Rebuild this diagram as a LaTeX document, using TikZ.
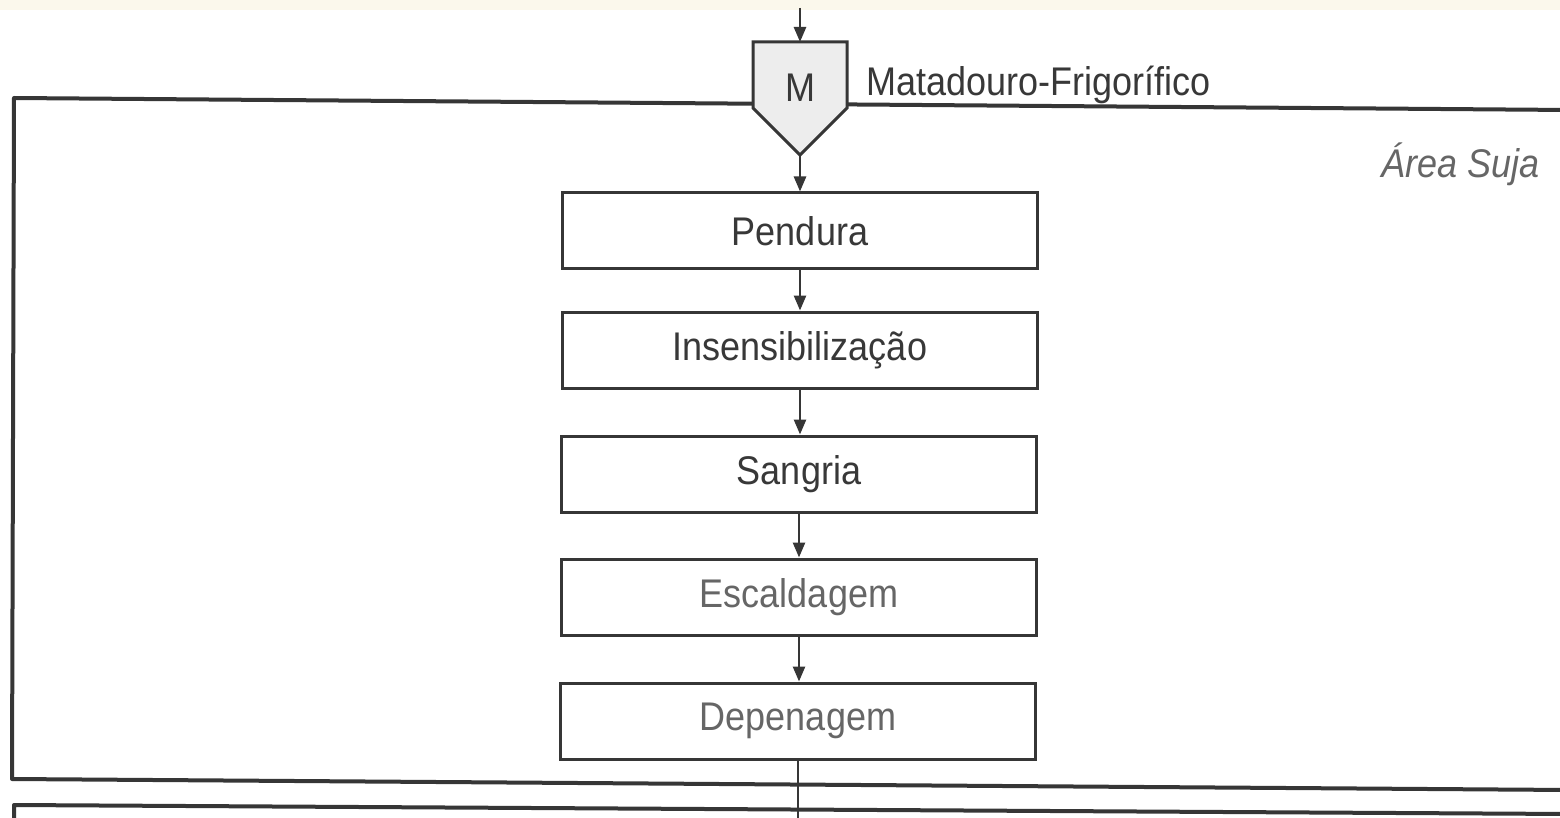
\documentclass[tikz,border=0pt]{standalone}
\usepackage{fontspec}
\setmainfont[FakeStretch=0.9]{Liberation Sans}
\usetikzlibrary{arrows.meta}
\definecolor{linegray}{HTML}{363636}
\definecolor{textdark}{HTML}{383838}
\definecolor{textlight}{HTML}{666666}
\definecolor{cream}{HTML}{FBF8EC}
\definecolor{mfill}{HTML}{EDEDED}
\newcommand\stepfont{\fontsize{40}{46}\selectfont}
\newcommand\areafont{\fontsize{40}{46}\selectfont\itshape}
\tikzset{
  frameline/.style={draw=linegray, line width=4pt, line join=round},
  stepbox/.style={draw=linegray, line width=3pt, fill=white,
    minimum width=475pt, minimum height=76pt, inner sep=0pt,
    font=\stepfont, text=textdark},
  flow/.style={draw=linegray, line width=2.6pt, -{Triangle[length=15pt,width=12pt]}},
  plain/.style={draw=linegray, line width=2.6pt},
}
\begin{document}
\begin{tikzpicture}[x=1pt,y=-1pt]
\useasboundingbox (0,0) rectangle (1560,818);
\fill[white] (0,0) rectangle (1560,818);
\fill[cream] (0,0) rectangle (1560,10);

% dirty-area frame and the start of the next one
\draw[frameline] (1570,110) -- (14,98) -- (12,779) -- (1570,790);
\draw[frameline] (1570,814) -- (14,805) -- (14,830);

% slaughterhouse symbol
\filldraw[draw=linegray, line width=3pt, fill=mfill, line join=miter]
  (753,42) -- (847,42) -- (847,108) -- (800,155) -- (753,108) -- cycle;
\node[font=\stepfont, text=textdark, inner sep=0pt] (m) at (800,88) {M};
\coordinate (src) at (800,8);
\coordinate (mtop) at (800,42);
\coordinate (mtip) at (800,155);
\node[anchor=base west, font=\stepfont, text=textdark, inner sep=0pt]
  (mlabel) at (866,96) {Matadouro-Frigorífico};
\node[anchor=base east, font=\areafont, text=textlight, inner sep=0pt]
  (area) at (1540,178) {Área Suja};

% process steps
\node[stepbox] (pendura) at (800,231) {Pendura};
\node[stepbox] (insens) at (800,350) {Insensibilização};
\node[stepbox] (sangria) at (799,474) {Sangria};
\node[stepbox, text=textlight] (escald) at (799,597) {Escaldagem};
\node[stepbox, text=textlight] (depen) at (798,721) {Depenagem};
\coordinate (exit) at (798,830);

% connectors
\draw[flow] (src) -- (mtop);
\draw[flow] (mtip) -- (pendura.north);
\draw[flow] (pendura.south) -- (insens.north);
\draw[flow] (insens.south) -- (insens.south |- sangria.north);
\draw[flow] (sangria.south) -- (escald.north);
\draw[flow] (escald.south) -- (escald.south |- depen.north);
\draw[plain] (depen.south) -- (exit);
\end{tikzpicture}
\end{document}
